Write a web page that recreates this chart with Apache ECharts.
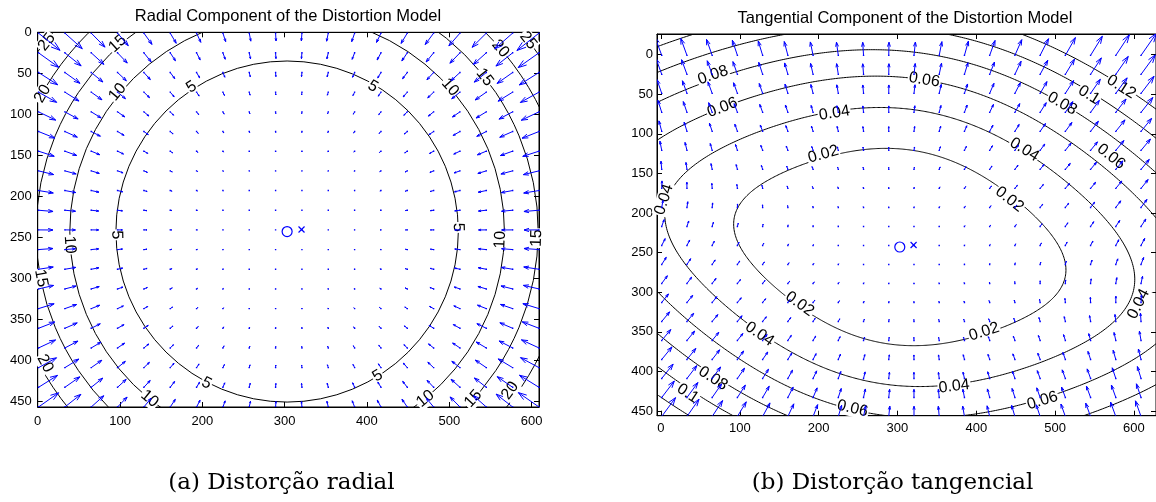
<!DOCTYPE html>
<html><head><meta charset="utf-8">
<script src="https://cdn.jsdelivr.net/npm/echarts@6/dist/echarts.min.js"></script>
<style>html,body{margin:0;padding:0;background:#fff}#c{width:1156px;height:502px}</style>
</head><body><div id="c"></div>
<script>
// ---- data ----
const gridX = [1,33,65,97,129,161,193,225,257,289,321,353,385,417,449,481,513,545,577,609];
const gridY = [1,25,49,73,97,121,145,169,193,217,241,265,289,313,337,361,385,409,433,457];
const principalPoint = [303, 243];
const imageCenter = [320.5, 240.5];
// radial model: displacement (px) = a*(r/100)^3 + b*(r/100)^5, pointing to the centre
const radialCoef = [0.5903, -0.00803];
const radialLevels = [5, 10, 15, 20, 25];
const radialRadii = [208, 264, 305, 342, 374];
// tangential model vector (1/px), fitted to the contour labels
const tangQ = [0.748e-7, -4.334e-7];
const tangLevels = [0.02, 0.04, 0.06, 0.08, 0.1, 0.12];
const xTicks = [0, 100, 200, 300, 400, 500, 600];
const yTicks = [0, 50, 100, 150, 200, 250, 300, 350, 400, 450];
const radialLabels = [
  ['5',187,67],['5',407,66],['5',96,247],['5',511,238],['5',205,428],['5',413,419],
  ['10',97,73],['10',501,67],['10',39,259],['10',562,253],['10',136,447],['10',471,447],
  ['15',97,14],['15',543,55],['15',529,447],['15',4,300],['15',606,251],
  ['20',6,75],['20',562,20],['20',9,404],['20',574,437],
  ['25',11,12],['25',596,10]
];
const tangLabels = [
  ['0.08',66,26],['0.06',78,67],['0.06',334,32],['0.04',220,74],
  ['0.08',509,62],['0.1',543,51],['0.12',584,41],
  ['0.02',206,126],['0.04',461,120],['0.06',571,129],['0.04',4,183],['0.02',442,183],
  ['0.02',176,315],['0.04',606,315],['0.04',125,353],['0.02',410,350],['0.04',372,419],
  ['0.1',34,428],['0.08',66,409],['0.06',243,447],['0.06',484,437]
];

// ---- models ----
function radialVec(x, y) {
  const vx = x - principalPoint[0], vy = y - principalPoint[1];
  const r = Math.hypot(vx, vy);
  if (r === 0) return [0, 0];
  const s = r / 100;
  const m = radialCoef[0] * s ** 3 + radialCoef[1] * s ** 5;
  return [-m * vx / r, -m * vy / r];
}
function tangVec(x, y) {
  const vx = x - principalPoint[0], vy = y - principalPoint[1];
  const s = tangQ[0] * vx + tangQ[1] * vy;
  const r2 = vx * vx + vy * vy;
  return [2 * s * vx + r2 * tangQ[0], 2 * s * vy + r2 * tangQ[1]];
}
function quiver(fn) {
  const pts = [];
  gridY.forEach(y => gridX.forEach(x => { const d = fn(x, y); pts.push([x, y, d[0], d[1]]); }));
  const n = Math.sqrt(pts.length);
  const delx = (gridX[gridX.length - 1] - gridX[0]) / n;
  const dely = (gridY[gridY.length - 1] - gridY[0]) / n;
  const del = delx * delx + dely * dely;
  let maxlen = 0;
  pts.forEach(p => { maxlen = Math.max(maxlen, Math.sqrt((p[2] * p[2] + p[3] * p[3]) / del)); });
  const sc = 0.9 / maxlen;
  return pts.map(p => [p[0], p[1], p[2] * sc, p[3] * sc]);
}
const radialArrows = quiver(radialVec);
const tangArrows = quiver(tangVec);

function arrowItem(params, api) {
  const x = api.value(0), y = api.value(1), u = api.value(2), v = api.value(3);
  const a = 0.33, b = 0.33;
  const p0 = api.coord([x, y]), p1 = api.coord([x + u, y + v]);
  const h1 = api.coord([x + u - a * (u + b * v), y + v - a * (v - b * u)]);
  const h2 = api.coord([x + u - a * (u - b * v), y + v - a * (v + b * u)]);
  const st = { stroke: '#0000ff', lineWidth: 1, fill: null };
  return { type: 'group', children: [
    { type: 'polyline', shape: { points: [p0, p1] }, style: st },
    { type: 'polyline', shape: { points: [h1, p1, h2] }, style: st },
    { type: 'rect', shape: { x: p0[0] - 0.7, y: p0[1] - 0.7, width: 1.4, height: 1.4 }, style: { fill: '#0000ff' } }
  ]};
}
function circleItem(params, api) {
  const c = api.coord([api.value(0), api.value(1)]);
  const sz = api.size([api.value(2), api.value(2)]);
  return { type: 'circle', x: c[0], y: c[1], scaleY: sz[1] / sz[0],
    shape: { cx: 0, cy: 0, r: sz[0] }, style: { stroke: '#000', fill: null, lineWidth: 1 } };
}
function tangContourItem(params, api) {
  const L = api.value(0);
  const qq = tangQ[0] * tangQ[0] + tangQ[1] * tangQ[1];
  const pts = [];
  for (let k = 0; k <= 720; k++) {
    const th = k / 720 * 2 * Math.PI;
    const wx = Math.cos(th), wy = Math.sin(th);
    const qw = tangQ[0] * wx + tangQ[1] * wy;
    const t = Math.sqrt(L / Math.sqrt(8 * qw * qw + qq));
    pts.push(api.coord([principalPoint[0] + t * wx, principalPoint[1] + t * wy]));
  }
  return { type: 'polyline', shape: { points: pts }, style: { stroke: '#000', fill: null, lineWidth: 1 } };
}
function magnitude(fn, x, y) { const d = fn(x, y); return Math.hypot(d[0], d[1]); }
function labelItemFor(fn) {
  return function (params, api) {
    const x = api.value(1), y = api.value(2);
    const e = 0.5;
    const p = api.coord([x, y]);
    const gx = magnitude(fn, x + e, y) - magnitude(fn, x - e, y);
    const gy = magnitude(fn, x, y + e) - magnitude(fn, x, y - e);
    let ang = Math.atan2(gy, gx) + Math.PI / 2;
    while (ang > Math.PI / 2) ang -= Math.PI;
    while (ang < -Math.PI / 2) ang += Math.PI;
    return { type: 'text', x: p[0], y: p[1], rotation: -ang,
      style: { text: api.value(0), fontSize: 16, fontFamily: 'Liberation Sans, Arial', fill: '#000',
        align: 'center', verticalAlign: 'middle', backgroundColor: '#fff', padding: [0, 1] } };
  };
}
function markerItem(params, api) {
  const c = api.coord([api.value(0), api.value(1)]);
  if (api.value(2) === 0) {
    return { type: 'circle', shape: { cx: c[0], cy: c[1], r: 5 }, style: { stroke: '#0000ff', fill: null, lineWidth: 1.2 } };
  }
  const s = 3;
  return { type: 'group', children: [
    { type: 'line', shape: { x1: c[0] - s, y1: c[1] - s, x2: c[0] + s, y2: c[1] + s }, style: { stroke: '#0000ff', lineWidth: 1.2 } },
    { type: 'line', shape: { x1: c[0] - s, y1: c[1] + s, x2: c[0] + s, y2: c[1] - s }, style: { stroke: '#0000ff', lineWidth: 1.2 } }
  ]};
}

const FONT = 'Liberation Sans, Arial';
function xAxes(gi, ext, margin) {
  const base = { gridIndex: gi, type: 'value', min: ext[0], max: ext[1], splitLine: { show: false },
    axisLine: { show: true, onZero: false, lineStyle: { color: '#000', width: 1 } } };
  return [
    Object.assign({}, base, { position: 'bottom',
      axisTick: { show: true, inside: true, length: 5, customValues: xTicks, lineStyle: { color: '#000' } },
      axisLabel: { show: true, customValues: xTicks, color: '#000', fontSize: 13, fontFamily: FONT, margin: margin } }),
    Object.assign({}, base, { position: 'top',
      axisTick: { show: true, inside: true, length: 5, customValues: xTicks, lineStyle: { color: '#000' } },
      axisLabel: { show: false } })
  ];
}
function yAxes(gi, ext, margin) {
  const base = { gridIndex: gi, type: 'value', min: ext[0], max: ext[1], inverse: true, splitLine: { show: false },
    axisLine: { show: true, onZero: false, lineStyle: { color: '#000', width: 1 } } };
  return [
    Object.assign({}, base, { position: 'left',
      axisTick: { show: true, inside: true, length: 5, customValues: yTicks, lineStyle: { color: '#000' } },
      axisLabel: { show: true, customValues: yTicks, color: '#000', fontSize: 13, fontFamily: FONT, margin: margin } }),
    Object.assign({}, base, { position: 'right',
      axisTick: { show: true, inside: true, length: 5, customValues: yTicks, lineStyle: { color: '#000' } },
      axisLabel: { show: false } })
  ];
}

const option = {
  animation: false,
  backgroundColor: '#fff',
  grid: [
    { left: 37.7, top: 32.3, width: 501.3, height: 374.7, show: true, borderColor: '#000', borderWidth: 1, backgroundColor: '#fff' },
    { left: 657, top: 34, width: 501, height: 381.7, show: true, borderColor: '#000', borderWidth: 1, backgroundColor: '#fff' }
  ],
  xAxis: [...xAxes(0, [0, 609], 8), ...xAxes(1, [-5, 628], 6)],
  yAxis: [...yAxes(0, [0, 457], 6), ...yAxes(1, [-26, 456], 4)],
  graphic: [
    { type: 'text', x: 288, y: 16, style: { text: 'Radial Component of the Distortion Model', fontSize: 16.5, fontFamily: FONT, fill: '#000', align: 'center', verticalAlign: 'middle' } },
    { type: 'text', x: 905, y: 18, style: { text: 'Tangential Component of the Distortion Model', fontSize: 16.5, fontFamily: FONT, fill: '#000', align: 'center', verticalAlign: 'middle' } },
    { type: 'text', x: 281.5, y: 483, style: { text: '(a) Distorção radial', fontSize: 23, fontFamily: 'DejaVu Serif', fill: '#000', align: 'center', verticalAlign: 'middle' } },
    { type: 'text', x: 892.5, y: 483, style: { text: '(b) Distorção tangencial', fontSize: 23, fontFamily: 'DejaVu Serif', fill: '#000', align: 'center', verticalAlign: 'middle' } }
  ],
  series: [
    { type: 'custom', xAxisIndex: 0, yAxisIndex: 0, clip: true, z: 1, renderItem: circleItem,
      data: radialRadii.map((r, i) => [principalPoint[0], principalPoint[1], r, radialLevels[i]]) },
    { type: 'custom', xAxisIndex: 0, yAxisIndex: 0, clip: false, z: 2, renderItem: labelItemFor(radialVec),
      encode: { x: 1, y: 2 }, data: radialLabels },
    { type: 'custom', xAxisIndex: 0, yAxisIndex: 0, clip: true, z: 3, renderItem: arrowItem, data: radialArrows },
    { type: 'custom', xAxisIndex: 0, yAxisIndex: 0, z: 4, renderItem: markerItem,
      data: [[principalPoint[0], principalPoint[1], 0], [imageCenter[0], imageCenter[1], 1]] },

    { type: 'custom', xAxisIndex: 2, yAxisIndex: 2, clip: true, z: 1, renderItem: tangContourItem,
      encode: { x: -1, y: -1 }, data: tangLevels.map(l => [l]) },
    { type: 'custom', xAxisIndex: 2, yAxisIndex: 2, clip: false, z: 2, renderItem: labelItemFor(tangVec),
      encode: { x: 1, y: 2 }, data: tangLabels },
    { type: 'custom', xAxisIndex: 2, yAxisIndex: 2, clip: true, z: 3, renderItem: arrowItem, data: tangArrows },
    { type: 'custom', xAxisIndex: 2, yAxisIndex: 2, z: 4, renderItem: markerItem,
      data: [[principalPoint[0], principalPoint[1], 0], [imageCenter[0], imageCenter[1], 1]] }
  ]
};
const chart = echarts.init(document.getElementById('c'));
chart.setOption(option);
</script>
</body></html>
